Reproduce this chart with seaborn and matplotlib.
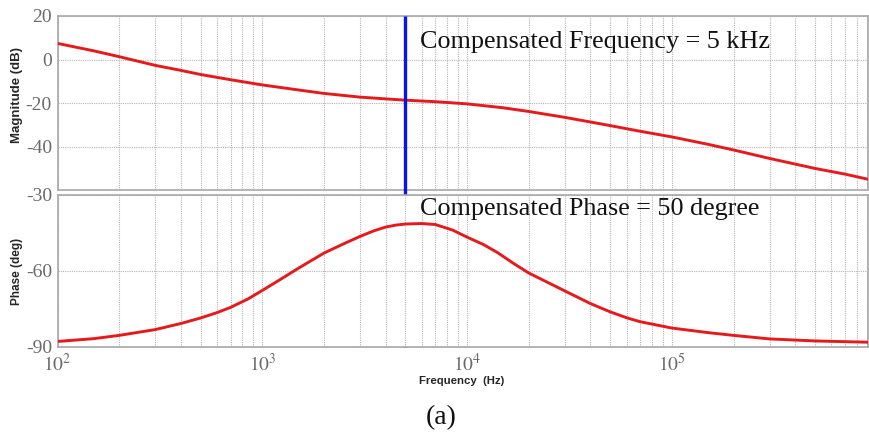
import numpy as np
import pandas as pd
import matplotlib
matplotlib.use("Agg")
import matplotlib.pyplot as plt
import seaborn as sns
from matplotlib.ticker import LogLocator, FixedLocator, NullFormatter

# ---- data ----
mag_freq = [100, 150, 200, 300, 400, 500, 700, 1000, 1500, 2000, 3000, 4000,
            5000, 7000, 10000, 15000, 20000, 30000, 50000, 70000, 100000,
            150000, 200000, 300000, 500000, 700000, 900000]
mag_db = [7.4, 4.0, 1.3, -2.7, -5.0, -6.9, -9.3, -11.7, -14.0, -15.6, -17.3,
          -18.1, -18.7, -19.4, -20.4, -22.2, -23.9, -26.6, -30.4, -33.0, -35.6,
          -39.0, -41.6, -45.5, -50.1, -52.7, -55.0]

ph_freq = [100, 150, 200, 300, 400, 500, 600, 700, 850, 1000, 1250, 1500, 2000,
           2500, 3000, 3500, 4000, 4500, 5000, 6000, 7000, 8500, 10000, 12000,
           14000, 17000, 20000, 30000, 40000, 50000, 60000, 70000, 100000,
           150000, 200000, 300000, 500000, 900000]
ph_deg = [-88.0, -86.9, -85.6, -83.3, -80.9, -78.7, -76.6, -74.5, -71.2, -67.8,
          -63.0, -59.0, -53.0, -49.3, -46.4, -44.2, -42.7, -41.9, -41.5, -41.3,
          -41.7, -43.9, -46.7, -49.6, -52.7, -57.3, -60.9, -68.0, -73.0, -76.3,
          -78.6, -80.2, -82.7, -84.5, -85.6, -87.0, -87.8, -88.3]

comp_freq = 5000
mag_yticks = [-60, -40, -20, 0, 20]
mag_yticklabels = ["", "-40", "-20", "0", "20"]
ph_yticks = [-90, -60, -30]
ph_yticklabels = ["-90", "-60", "-30"]
x_ticks = [1e2, 1e3, 1e4, 1e5]
x_ticklabels = [r"$10^{2}$", r"$10^{3}$", r"$10^{4}$", r"$10^{5}$"]
txt_mag = "Compensated Frequency = 5 kHz"
txt_ph = "Compensated Phase = 50 degree"

sns.set_theme(style="white")
plt.rcParams["mathtext.fontset"] = "stix"
plt.rcParams["font.family"] = ["Liberation Serif", "DejaVu Serif"]

W, H = 869, 434
fig = plt.figure(figsize=(W / 100, H / 100), dpi=100)
left = 57.5 / W
width = (868 - 57.5) / W
ax1 = fig.add_axes([left, 1 - 190 / H, width, 174 / H])
ax2 = fig.add_axes([left, 1 - 346.5 / H, width, 151.5 / H])

red = "#e41a1c"
blue = "#0a14e6"
grid_c = "#b5b5b5"
tick_c = "#6a6a6a"

df_mag = pd.DataFrame({"f": mag_freq, "v": mag_db})
df_ph = pd.DataFrame({"f": ph_freq, "v": ph_deg})
sns.lineplot(data=df_mag, x="f", y="v", ax=ax1, color=red, lw=2.1, zorder=3)
sns.lineplot(data=df_ph, x="f", y="v", ax=ax2, color=red, lw=2.1, zorder=3)

for ax in (ax1, ax2):
    ax.set_xscale("log")
    ax.set_xlim(100, 9.06e5)
    ax.set_xlabel("")
    ax.set_ylabel("")
    ax.xaxis.set_major_locator(FixedLocator(x_ticks))
    ax.xaxis.set_minor_locator(LogLocator(base=10, subs=np.arange(2, 10)))
    ax.xaxis.set_minor_formatter(NullFormatter())
    ax.grid(True, which="major", axis="both", color=grid_c, lw=0.8, ls=(0, (1, 1)))
    ax.grid(True, which="minor", axis="x", color=grid_c, lw=0.8, ls=(0, (1, 1)))
    for s in ax.spines.values():
        s.set_color("#a8a8a8")
        s.set_linewidth(1.2)
    ax.tick_params(axis="both", which="both", length=0, colors=tick_c,
                   labelsize=14, pad=4)

ax1.set_ylim(-60, 20)
ax1.set_yticks(mag_yticks)
ax1.set_yticklabels(mag_yticklabels)
ax1.set_xticklabels([])
ax2.set_ylim(-90, -30)
ax2.set_yticks(ph_yticks)
ax2.set_yticklabels(ph_yticklabels)
ax2.set_xticklabels(x_ticklabels)
ax2.tick_params(axis="x", labelsize=14, pad=5)

# blue compensation line spanning both panels
ext = (346.5 - 190) / 174
ax1.axvline(comp_freq, ymin=-ext, ymax=1, color=blue, lw=2.4, clip_on=False,
            zorder=5, solid_capstyle="butt")

ax1.text(0.447, 0.851, txt_mag, transform=ax1.transAxes, fontsize=18.8,
         color="#111111", va="center", ha="left")
ax2.text(0.447, 0.908, txt_ph, transform=ax2.transAxes, fontsize=18.8,
         color="#111111", va="center", ha="left")

sans = ["Liberation Sans", "DejaVu Sans"]
fig.text(17 / W, 1 - 95 / H, "Magnitude (dB)", rotation=90, ha="center",
         va="center", fontsize=9.5, fontweight="bold", family=sans)
fig.text(17 / W, 1 - 271 / H, "Phase (deg)", rotation=90, ha="center",
         va="center", fontsize=8.5, fontweight="bold", family=sans)
fig.text(462 / W, 1 - 381 / H, "Frequency  (Hz)", ha="center", va="center",
         fontsize=8.2, fontweight="bold", family=sans)
fig.text(441 / W, 1 - 418 / H, "(a)", ha="center", va="center", fontsize=20,
         color="#111111")

fig.savefig("out.png", dpi=100, facecolor="white")
